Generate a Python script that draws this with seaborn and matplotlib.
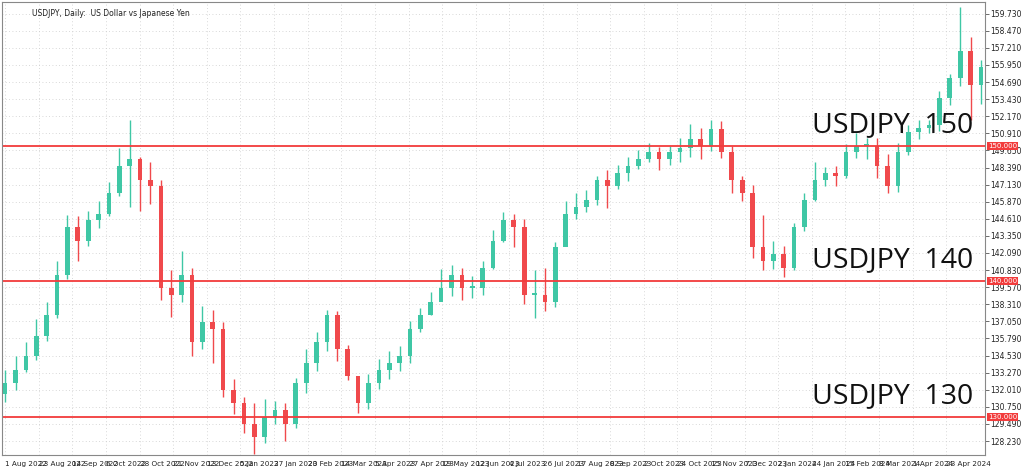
import numpy as np
import pandas as pd
import matplotlib
matplotlib.use("Agg")
import matplotlib.pyplot as plt
import seaborn as sns

# weekly approximation of the daily USDJPY chart
closes = [132.5, 133.5, 134.5, 136.0, 137.5, 140.5, 144.0, 143.0, 144.5, 145.0,
          146.5, 148.5, 149.0, 147.5, 147.0, 139.5, 139.0, 140.5, 135.5, 137.0,
          136.5, 132.0, 131.0, 129.5, 128.5, 130.0, 130.5, 129.5, 132.5, 134.0,
          135.5, 137.5, 135.0, 133.0, 131.0, 132.5, 133.5, 134.0, 134.5, 136.5,
          137.5, 138.5, 139.5, 140.5, 139.5, 139.5, 141.0, 143.0, 144.5, 144.0,
          139.0, 139.0, 138.5, 142.5, 145.0, 145.5, 146.0, 147.5, 147.0, 148.0,
          148.5, 149.0, 149.5, 149.0, 149.5, 149.8, 150.5, 150.0, 151.2, 149.5,
          147.5, 146.5, 142.5, 141.5, 142.0, 141.0, 144.0, 146.0, 147.5, 148.0,
          147.8, 149.5, 150.0, 150.0, 148.5, 147.0, 149.5, 151.0, 151.3, 151.5,
          153.5, 155.0, 157.0, 154.5, 155.8]
highs = [133.5, 134.5, 135.5, 137.2, 138.5, 141.5, 144.9, 144.8, 145.2, 145.9,
         147.3, 149.8, 151.9, 149.2, 148.8, 147.5, 140.8, 142.2, 141.0, 138.2,
         137.9, 137.0, 132.8, 131.5, 131.0, 131.3, 131.2, 131.0, 132.9, 135.0,
         136.3, 137.9, 137.8, 135.3, 133.0, 133.2, 134.3, 134.9, 135.2, 137.1,
         138.0, 139.2, 140.9, 141.2, 141.0, 140.4, 141.5, 143.8, 145.1, 145.0,
         144.6, 140.8, 141.0, 142.9, 145.9, 146.5, 146.7, 147.8, 148.2, 148.6,
         149.2, 149.7, 150.2, 149.9, 150.0, 150.6, 151.6, 151.3, 151.9, 151.8,
         150.0, 147.8, 147.1, 144.9, 143.0, 142.6, 144.3, 146.5, 148.8, 148.4,
         148.5, 150.1, 150.9, 150.6, 150.6, 149.4, 150.2, 151.5, 151.9, 151.9,
         154.0, 155.3, 160.2, 158.0, 156.3]
lows = [131.1, 132.0, 133.3, 134.2, 135.6, 137.3, 140.2, 141.5, 142.6, 143.9,
        144.8, 146.3, 145.5, 145.2, 145.7, 138.6, 137.4, 138.5, 134.5, 135.0,
        134.0, 131.5, 130.2, 128.8, 127.3, 128.1, 129.5, 128.2, 129.2, 131.8,
        133.4, 134.9, 134.1, 132.7, 130.3, 130.6, 132.1, 132.8, 133.4, 134.0,
        136.3, 137.5, 138.6, 138.9, 138.6, 138.8, 139.0, 140.9, 142.9, 142.5,
        138.3, 137.3, 137.8, 138.1, 142.6, 144.6, 145.1, 145.6, 145.4, 146.8,
        147.4, 148.3, 148.8, 148.2, 148.6, 148.8, 149.2, 149.0, 149.6, 149.1,
        146.5, 145.9, 141.7, 140.8, 140.9, 140.3, 140.8, 143.7, 145.9, 147.0,
        147.0, 147.6, 149.1, 149.0, 147.6, 146.5, 146.6, 149.3, 150.5, 150.9,
        151.1, 153.0, 154.4, 151.9, 153.1]

tick_dates = ["1 Aug 2022", "23 Aug 2022", "14 Sep 2022", "6 Oct 2022", "28 Oct 2022",
              "21 Nov 2022", "13 Dec 2022", "5 Jan 2023", "27 Jan 2023", "20 Feb 2023",
              "14 Mar 2023", "5 Apr 2023", "27 Apr 2023", "19 May 2023", "12 Jun 2023",
              "4 Jul 2023", "26 Jul 2023", "17 Aug 2023", "8 Sep 2023", "2 Oct 2023",
              "24 Oct 2023", "15 Nov 2023", "7 Dec 2023", "2 Jan 2024", "24 Jan 2024",
              "15 Feb 2024", "8 Mar 2024", "1 Apr 2024", "23 Apr 2024"]
levels = [150, 140, 130]
price_ticks = [128.23, 129.49, 130.75, 132.01, 133.27, 134.53, 135.79, 137.05, 138.31,
               139.57, 140.83, 142.09, 143.35, 144.61, 145.87, 147.13, 148.39, 149.65,
               150.91, 152.17, 153.43, 154.69, 155.95, 157.21, 158.47, 159.73]

df = pd.DataFrame({"close": closes, "high": highs, "low": lows})
df["open"] = df["close"].shift(1).fillna(df["close"].iloc[0] - 0.8)
df["idx"] = np.arange(len(df))
df["up"] = df["close"] >= df["open"]

sns.set_theme(style="white")
plt.rcParams['font.family'] = ['DejaVu Sans']

fig = plt.figure(figsize=(10.24, 4.71), dpi=100)
ax = fig.add_axes([0.002, 0.034, 0.96, 0.962])

bull, bear = "#3fc7a5", "#f0494c"
colors = np.where(df["up"], bull, bear)
ax.vlines(df["idx"], df["low"], df["high"], colors=colors, linewidth=1)
ax.bar(df["idx"], (df["close"] - df["open"]).abs().clip(lower=0.15),
       bottom=np.minimum(df["open"], df["close"]), width=0.45, color=colors, linewidth=0)

for lv in levels:
    ax.axhline(lv, color="#f23c3c", linewidth=1.3)
    ax.text(77.7, lv + 0.5, f"USDJPY  {lv}", fontsize=20.5, color="#111111",
            va="bottom", ha="left", family="Open Sans")
    ax.text(1.003, lv, f"{lv:.3f}", transform=ax.get_yaxis_transform(), fontsize=5,
            color="white", va="center", ha="left",
            bbox=dict(boxstyle="square,pad=0.15", fc="#f23c3c", ec="none"))

ax.set_xlim(-0.3, len(df) - 0.6)
ax.set_ylim(127.2, 160.6)
ax.yaxis.tick_right()
ax.set_yticks(price_ticks)
ax.set_yticklabels([f"{t:.3f}" for t in price_ticks], fontsize=5.5, color="#222222")
week_px = 10.5
ax.set_xticks([k * 34 / week_px for k in range(len(tick_dates))])
ax.set_xticklabels(tick_dates, fontsize=5.2, color="#222222", ha="left")
ax.tick_params(axis="both", length=3, width=0.6, pad=1, color="#555555")
ax.grid(True, linestyle=(0, (1, 3)), color="#cccccc", linewidth=0.6)
for s in ax.spines.values():
    s.set_color("#888888")
    s.set_linewidth(0.8)

ax.text(0.03, 0.985, "USDJPY, Daily:  US Dollar vs Japanese Yen", transform=ax.transAxes,
        fontsize=5.5, color="#222222", va="top")

fig.savefig("out.png", dpi=100)
